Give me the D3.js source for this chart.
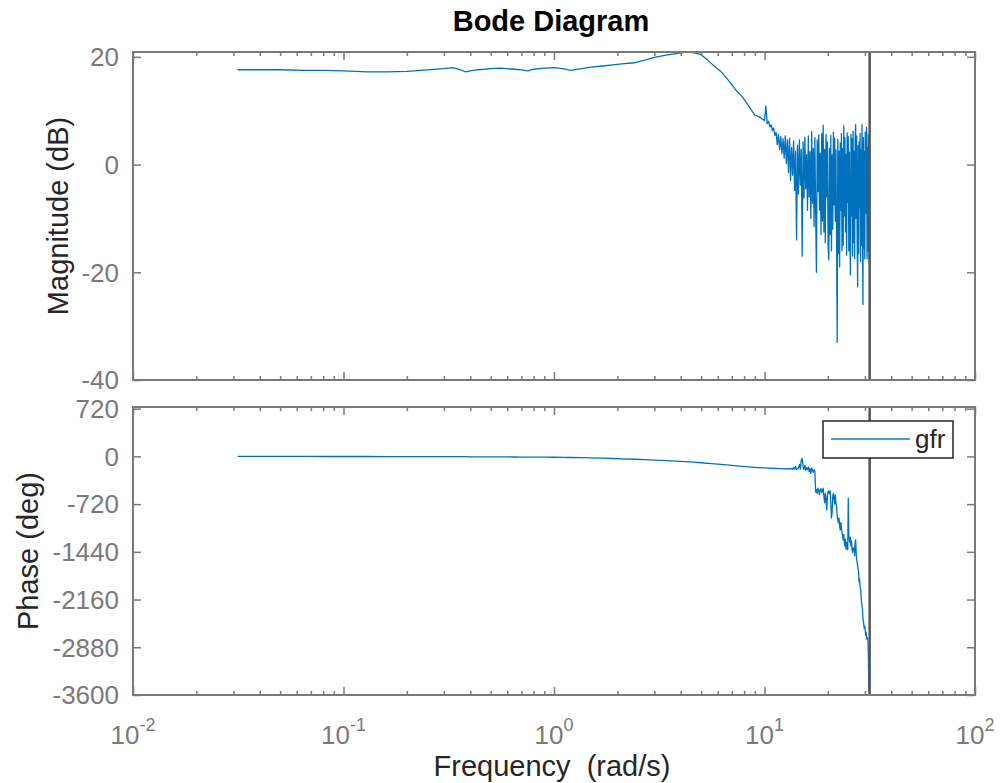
<!DOCTYPE html>
<html>
<head>
<meta charset="utf-8">
<script src="https://cdn.jsdelivr.net/npm/d3@7"></script>
<style>
  html, body { margin: 0; padding: 0; background: #fff; }
  svg { display: block; font-family: "Liberation Sans", Arial, sans-serif; }
</style>
</head>
<body>
<svg id="chart" width="1000" height="783"></svg>
<script>
// ---------------- DATA ----------------
const title = "Bode Diagram";
const seriesName = "gfr";
const nyquist = 31.4159;                       // rad/s, vertical marker
const xDomain = [0.01, 100];
const xMajorTicks = [0.01, 0.1, 1, 10, 100];
const xTickExponents = ["-2", "-1", "0", "1", "2"];
const magTicks = [20, 0, -20, -40];
const phaseTicks = [720, 0, -720, -1440, -2160, -2880, -3600];

// low-frequency part (smooth)
const freqLow = [0.0314,0.04,0.05,0.065,0.08,0.1,0.13,0.16,0.2,0.25,
  0.3,0.33,0.36,0.38,0.4,0.43,0.47,0.5,0.55,0.6,
  0.65,0.7,0.75,0.8,0.9,1.0,1.1,1.2,1.35,1.5,
  1.7,1.9,2.1,2.4,2.7,3.0,3.4,3.8,4.2,4.6,
  5.0,5.4,5.8,6.2,6.6,7.0,7.4,7.8,8.2,8.6,
  9.0,9.4,9.8];
const magLow = [17.6,17.6,17.6,17.5,17.5,17.4,17.2,17.2,17.3,17.6,
  17.8,18.0,17.6,17.2,17.4,17.6,17.7,17.8,17.9,17.8,
  17.7,17.6,17.4,17.7,17.9,18.0,17.8,17.5,17.8,18.1,
  18.3,18.5,18.7,18.9,19.4,19.9,20.3,20.6,20.9,20.8,
  20.4,19.3,18.2,17.3,16.1,14.8,13.6,12.7,11.5,10.3,
  9.2,8.9,8.4];
const phaseLow = [-1,-1,-1,-1,-2,-2,-2,-3,-3,-4,
  -4,-5,-5,-5,-6,-6,-7,-7,-8,-8,
  -9,-10,-10,-11,-12,-13,-15,-17,-20,-23,
  -27,-32,-37,-43,-50,-56,-64,-72,-80,-88,
  -96,-104,-112,-120,-128,-136,-143,-150,-156,-161,
  -165,-169,-172];

// high-frequency part (noisy)
const freqHigh = [
  10.0,10.15,10.3,10.45,10.6,10.75,10.9,11.05,11.2,11.35,
  11.5,11.65,11.8,11.95,12.1,12.25,12.4,12.55,12.7,12.85,
  13.0,13.15,13.3,13.45,13.6,13.75,13.9,14.05,14.2,14.35,
  14.5,14.65,14.8,14.95,15.1,15.25,15.4,15.55,15.7,15.85,
  16.0,16.15,16.3,16.45,16.6,16.75,16.9,17.05,17.2,17.35,
  17.5,17.65,17.8,17.95,18.1,18.25,18.4,18.55,18.7,18.85,
  19.0,19.15,19.3,19.45,19.6,19.75,19.9,20.05,20.2,20.35,
  20.5,20.65,20.8,20.95,21.1,21.25,21.4,21.55,21.7,21.85,
  22.0,22.15,22.3,22.45,22.6,22.75,22.9,23.05,23.2,23.35,
  23.5,23.65,23.8,23.95,24.1,24.25,24.4,24.55,24.7,24.85,
  25.0,25.15,25.3,25.45,25.6,25.75,25.9,26.05,26.2,26.35,
  26.5,26.65,26.8,26.95,27.1,27.25,27.4,27.55,27.7,27.85,
  28.0,28.15,28.3,28.45,28.6,28.75,28.9,29.05,29.2,29.35,
  29.5,29.65,29.8,29.95,30.1,30.25,30.4,30.55,30.7,30.85,
  31.0,31.15,31.3,31.4];
const magHigh = [
  8.2,10.9,7.6,8.0,7.0,7.4,6.3,6.8,5.4,6.0,
  3.7,5.6,2.8,5.2,2.0,4.8,1.2,5.3,0.2,4.6,
  -1.5,4.9,-3.0,3.2,-2.0,4.4,-4.8,2.5,-14.0,3.6,
  -5.5,4.6,-3.8,2.8,-17.0,4.2,-6.2,5.1,-4.5,1.9,
  -8.5,5.3,-6.0,2.4,-10.0,6.1,-7.2,3.0,-11.5,5.0,
  -9.0,-20.0,4.6,-5.0,5.5,-8.5,2.1,-13.0,5.8,-10.5,
  7.3,-12.5,2.8,-14.5,5.6,-6.0,4.2,-15.0,-17.7,3.0,
  -13.0,5.4,-16.0,1.8,-12.0,6.0,-7.5,4.9,-10.5,2.7,
  -14.0,-33.0,4.7,-16.5,2.5,-19.0,4.0,-8.5,5.8,-16.0,
  3.0,-15.0,7.2,-9.5,5.0,-12.5,1.9,-16.8,5.9,-7.0,
  5.2,-16.0,2.3,-13.0,-20.5,5.6,-9.5,4.8,-17.0,6.2,
  -14.5,2.5,-17.5,4.6,7.4,-10.0,5.3,-13.5,-22.7,3.5,
  -16.5,4.2,-8.0,5.8,-18.0,2.7,-15.0,7.4,-11.0,-26.0,
  5.0,-15.5,2.4,-17.5,6.0,-9.0,4.8,6.9,-17.5,3.2,
  -16.0,5.6,-12.5,-18.6];
const phaseHigh = [
  -174,-176,-178,-175,-180,-177,-182,-179,-183,-181,
  -184,-182,-186,-183,-188,-185,-187,-184,-190,-186,
  -188,-185,-192,-180,-195,-172,-190,-150,-200,-185,
  -175,-120,-190,-60,-30,-150,-200,-135,-210,-170,
  -200,-160,-230,-185,-255,-175,-210,-240,-200,-225,
  -540,-500,-560,-480,-520,-575,-500,-490,-545,-510,
  -480,-600,-700,-560,-640,-810,-600,-530,-520,-560,
  -520,-700,-930,-850,-600,-560,-640,-720,-580,-700,
  -760,-900,-960,-1000,-930,-1050,-1110,-1000,-1080,-1150,
  -1200,-1260,-1180,-1300,-1350,-1250,-1400,-1300,-1380,-1410,
  -630,-1200,-1260,-1300,-1220,-1350,-1280,-1400,-1450,-1380,
  -1420,-1380,-1500,-1300,-1260,-1450,-1560,-1600,-1650,-1700,
  -1750,-1900,-1850,-1960,-2000,-2100,-2200,-2250,-2300,-2450,
  -2480,-2550,-2600,-2560,-2620,-2700,-2650,-2720,-2760,-2740,
  -2780,-3000,-3500,-3550];

// ---------------- BUILD ----------------
const freq = freqLow.concat(freqHigh);
const mag = magLow.concat(magHigh);
const phase = phaseLow.concat(phaseHigh);
const data = freq.map((f, i) => ({ f, m: mag[i], p: phase[i] }));

const svg = d3.select("#chart");
const axisColor = "#7a7a7a";
const labelColor = "#262626";
const lineColor = "#0072BD";

const x = d3.scaleLog().domain(xDomain).range([133, 975]);
const yMag = d3.scaleLinear().domain([-40, 20.9]).range([380, 52]);
const yPh = d3.scaleLinear().domain([-3600, 745]).range([695, 407]);

const minorTicks = x.ticks().filter(t => !xMajorTicks.some(m => Math.abs(m - t) / m < 1e-9));

function panel(y, key, yTicks, clipId) {
  const [y0, y1] = y.range();           // bottom, top
  const [xl, xr] = x.range();
  const g = svg.append("g");

  g.append("defs").append("clipPath").attr("id", clipId)
    .append("rect").attr("x", xl).attr("y", y1).attr("width", xr - xl).attr("height", y0 - y1);

  // data line
  const line = d3.line().x(d => x(d.f)).y(d => y(d[key]));
  g.append("path").datum(data)
    .attr("clip-path", `url(#${clipId})`)
    .attr("fill", "none").attr("stroke", lineColor)
    .attr("stroke-width", 1.3).attr("stroke-linejoin", "round")
    .attr("d", line);

  // Nyquist marker
  g.append("line")
    .attr("x1", x(nyquist) + 0.5).attr("x2", x(nyquist) + 0.5)
    .attr("y1", y1).attr("y2", y0)
    .attr("stroke", "#555").attr("stroke-width", 2.5);

  const styleAxis = sel => {
    sel.select(".domain").remove();
    sel.selectAll(".tick line").attr("stroke", axisColor).attr("stroke-width", 1.5);
    sel.selectAll(".tick text").remove();
  };
  // x ticks (inside), bottom & top
  g.append("g").attr("transform", `translate(0,${y0})`)
    .call(d3.axisBottom(x).tickValues(xMajorTicks).tickSizeInner(-8).tickSizeOuter(0)).call(styleAxis);
  g.append("g").attr("transform", `translate(0,${y0})`)
    .call(d3.axisBottom(x).tickValues(minorTicks).tickSizeInner(-4).tickSizeOuter(0)).call(styleAxis);
  g.append("g").attr("transform", `translate(0,${y1})`)
    .call(d3.axisTop(x).tickValues(xMajorTicks).tickSizeInner(-8).tickSizeOuter(0)).call(styleAxis);
  g.append("g").attr("transform", `translate(0,${y1})`)
    .call(d3.axisTop(x).tickValues(minorTicks).tickSizeInner(-4).tickSizeOuter(0)).call(styleAxis);
  // y ticks left & right
  g.append("g").attr("transform", `translate(${xl},0)`)
    .call(d3.axisLeft(y).tickValues(yTicks).tickSizeInner(-8).tickSizeOuter(0)).call(styleAxis);
  g.append("g").attr("transform", `translate(${xr},0)`)
    .call(d3.axisRight(y).tickValues(yTicks).tickSizeInner(-8).tickSizeOuter(0)).call(styleAxis);

  // y tick labels
  g.selectAll(".ylab").data(yTicks).enter().append("text")
    .attr("x", xl - 14).attr("y", d => y(d)).attr("dy", "0.36em")
    .attr("text-anchor", "end").attr("font-size", 26).attr("fill", axisColor)
    .text(d => d);

  // box
  g.append("rect").attr("x", xl).attr("y", y1).attr("width", xr - xl).attr("height", y0 - y1)
    .attr("fill", "none").attr("stroke", axisColor).attr("stroke-width", 2);
  return g;
}

panel(yMag, "m", magTicks, "clipMag");
panel(yPh, "p", phaseTicks, "clipPh");

// x tick labels (10^n)
const xlab = svg.append("g");
xMajorTicks.forEach((t, i) => {
  const tx = xlab.append("text").attr("x", x(t)).attr("y", 744)
    .attr("text-anchor", "middle").attr("font-size", 26).attr("fill", axisColor);
  tx.append("tspan").text("10");
  tx.append("tspan").attr("font-size", 18).attr("dy", -13).text(xTickExponents[i]);
});

// title & axis labels
svg.append("text").attr("x", 551).attr("y", 31).attr("text-anchor", "middle")
  .attr("font-size", 29).attr("font-weight", "bold").attr("fill", "#000").text(title);
svg.append("text").attr("x", 552).attr("y", 776).attr("text-anchor", "middle")
  .attr("font-size", 29).attr("fill", labelColor).attr("xml:space", "preserve")
  .style("white-space", "pre").text("Frequency  (rad/s)");
svg.append("text").attr("transform", "translate(68,216) rotate(-90)").attr("text-anchor", "middle")
  .attr("font-size", 29).attr("fill", labelColor).text("Magnitude (dB)");
svg.append("text").attr("transform", "translate(38,551) rotate(-90)").attr("text-anchor", "middle")
  .attr("font-size", 29).attr("fill", labelColor).text("Phase (deg)");

// legend
const lg = svg.append("g");
lg.append("rect").attr("x", 823).attr("y", 421).attr("width", 130).attr("height", 37)
  .attr("fill", "#fff").attr("stroke", labelColor).attr("stroke-width", 1.5);
lg.append("line").attr("x1", 831).attr("x2", 910).attr("y1", 439).attr("y2", 439)
  .attr("stroke", lineColor).attr("stroke-opacity", 0.7).attr("stroke-width", 2.2);
lg.append("text").attr("x", 915).attr("y", 448).attr("font-size", 26)
  .attr("fill", labelColor).text(seriesName);
</script>
</body>
</html>
